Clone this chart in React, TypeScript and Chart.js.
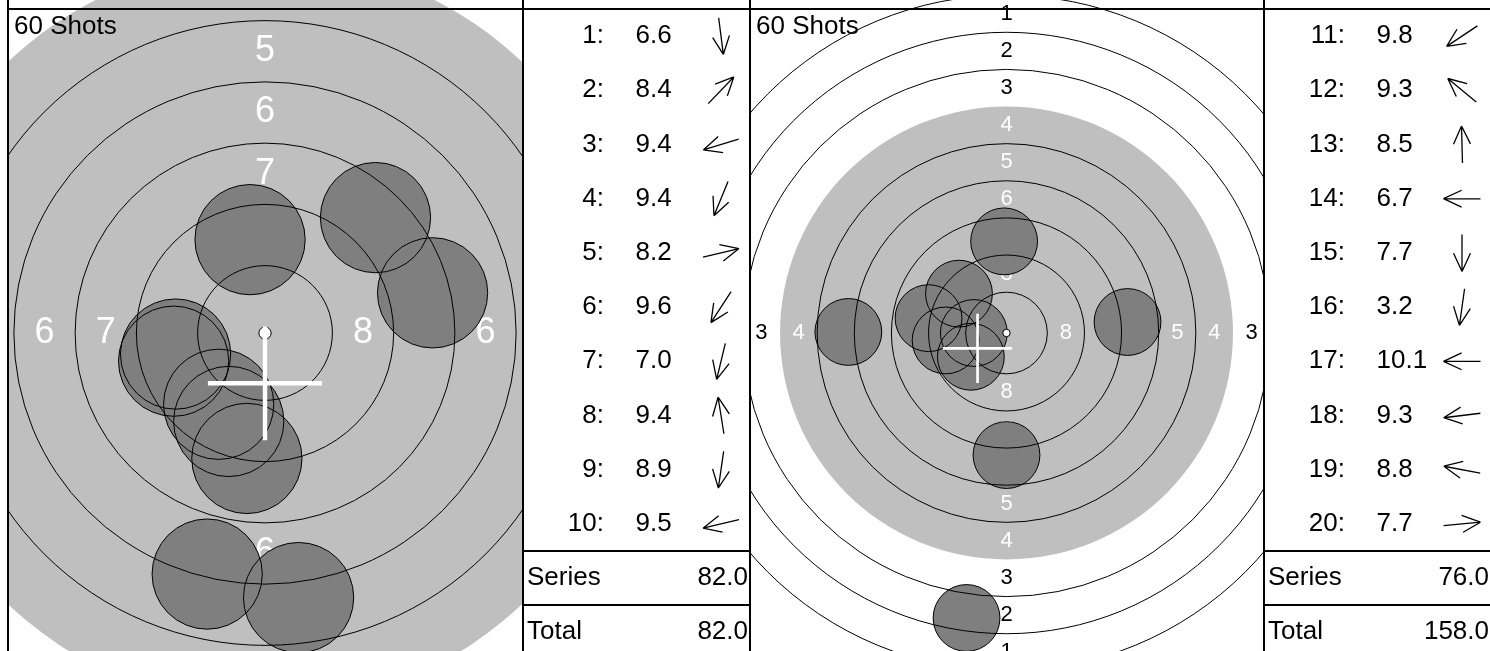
import React, { useEffect, useRef } from "react";
import { Chart, registerables } from "chart.js";

Chart.register(...registerables);

const FONT = "'Liberation Sans', Arial, Helvetica, sans-serif";

// ISSF 10 m air rifle target, ring radii in mm for rings 1..10
const ringScores = [1, 2, 3, 4, 5, 6, 7, 8, 9, 10];
const ringRadiusMm = [22.75, 20.25, 17.75, 15.25, 12.75, 10.25, 7.75, 5.25, 2.75, 0.25];
const labelledRings = [1, 2, 3, 4, 5, 6, 7, 8];
const blackAreaRing = 4;
const pelletRadiusMm = 2.25;
const crossArmMm = 2.33;
const shotCountLabel = "60 Shots";

// Series 1 (shots 1-10); positions in mm, x to the right, y upwards
const shotNumbers1 = [1, 2, 3, 4, 5, 6, 7, 8, 9, 10];
const scores1 = [6.6, 8.4, 9.4, 9.4, 8.2, 9.6, 7.0, 9.4, 8.9, 9.5];
const shotX1 = [1.37, 4.51, -3.73, -1.48, 6.84, -1.89, -2.36, -0.61, -0.74, -3.65];
const shotY1 = [-10.8, 4.71, -1.15, -3.61, 1.64, -2.91, -9.84, 3.81, -5.12, -0.86];
const meanX1 = [0.0];
const meanY1 = [-2.05];

// Series 2 (shots 11-20)
const shotNumbers2 = [11, 12, 13, 14, 15, 16, 17, 18, 19, 20];
const scores2 = [9.8, 9.3, 8.5, 6.7, 7.7, 3.2, 10.1, 9.3, 8.8, 7.7];
const shotX2 = [-2.4, -3.2, -0.16, -10.65, 0.0, -2.69, -2.2, -4.1, -5.25, 8.15];
const shotY2 = [-1.6, 2.65, 6.17, 0.07, -8.22, -19.19, 0.0, -0.5, 1.0, 0.74];
const meanX2 = [-1.95];
const meanY2 = [-1.04];

const GRAY_AREA = "#bfbfbf";
const SHOT_FILL = "#7f7f7f";

function mmToPx(chart: any, mm: number) {
  const sx = chart.scales && chart.scales.x;
  if (!sx) return 0;
  const v = Math.abs(sx.getPixelForValue(mm) - sx.getPixelForValue(0));
  return Number.isFinite(v) ? v : 0;
}

type TargetProps = {
  left: number; top: number; width: number; height: number;
  centerX: number; centerY: number; pxPerMm: number;
  xs: number[]; ys: number[]; meanX: number[]; meanY: number[];
};

function TargetChart(p: TargetProps) {
  const ref = useRef<HTMLCanvasElement>(null);
  useEffect(() => {
    const canvas = ref.current!;
    const ox = p.centerX - p.left;
    const oy = p.centerY - p.top;
    const xMin = -ox / p.pxPerMm;
    const xMax = (p.width - ox) / p.pxPerMm;
    const yMax = oy / p.pxPerMm;
    const yMin = -(p.height - oy) / p.pxPerMm;
    const shots = p.xs.map((x, i) => ({ x, y: p.ys[i] }));

    const plugin = {
      id: "targetFace",
      beforeDatasetsDraw(chart: any) {
        const { ctx, chartArea } = chart;
        const sx = chart.scales.x, sy = chart.scales.y;
        const cx = sx.getPixelForValue(0), cy = sy.getPixelForValue(0);
        ctx.save();
        ctx.beginPath();
        ctx.rect(chartArea.left, chartArea.top, chartArea.right - chartArea.left, chartArea.bottom - chartArea.top);
        ctx.clip();
        const rBlack = mmToPx(chart, ringRadiusMm[ringScores.indexOf(blackAreaRing)]);
        ctx.fillStyle = GRAY_AREA;
        ctx.beginPath();
        ctx.arc(cx, cy, rBlack, 0, Math.PI * 2);
        ctx.fill();
        const fs = Math.round(mmToPx(chart, 1.48));
        ctx.font = `${fs}px ${FONT}`;
        ctx.textAlign = "center";
        ctx.textBaseline = "middle";
        labelledRings.forEach((n) => {
          const i = ringScores.indexOf(n);
          const midMm = (ringRadiusMm[i] + ringRadiusMm[i + 1]) / 2;
          const r = mmToPx(chart, midMm);
          ctx.fillStyle = n >= blackAreaRing ? "#ffffff" : "#000000";
          const t = String(n);
          ctx.fillText(t, cx, cy - r);
          ctx.fillText(t, cx, cy + r);
          ctx.fillText(t, cx - r, cy);
          ctx.fillText(t, cx + r, cy);
        });
        ctx.restore();
      },
      afterDatasetDraw(chart: any, args: any) {
        if (chart.data.datasets[args.index].label !== "shotFill") return;
        const { ctx } = chart;
        const sx = chart.scales.x, sy = chart.scales.y;
        const cx = sx.getPixelForValue(0), cy = sy.getPixelForValue(0);
        ctx.save();
        ctx.strokeStyle = "#000";
        ctx.lineWidth = 1;
        ringScores.forEach((n, i) => {
          if (n === blackAreaRing || n === 10) return;
          ctx.beginPath();
          ctx.arc(cx, cy, mmToPx(chart, ringRadiusMm[i]), 0, Math.PI * 2);
          ctx.stroke();
        });
        ctx.restore();
      },
      afterDraw(chart: any) {
        const { ctx } = chart;
        ctx.save();
        ctx.fillStyle = "#000";
        ctx.font = `26px ${FONT}`;
        ctx.textAlign = "left";
        ctx.textBaseline = "alphabetic";
        ctx.fillText(shotCountLabel, chart.chartArea.left + 6, chart.chartArea.top + 34);
        ctx.restore();
      },
    };

    const pelletR = (ctx: any) => mmToPx(ctx.chart, pelletRadiusMm);
    const chart = new Chart(canvas, {
      type: "scatter",
      data: {
        datasets: [
          {
            label: "shotFill", data: shots, order: 5,
            pointRadius: pelletR, pointHoverRadius: pelletR,
            pointBackgroundColor: SHOT_FILL, pointBorderColor: "rgba(0,0,0,0)", pointBorderWidth: 0,
          },
          {
            label: "shotEdge", data: shots, order: 4,
            pointRadius: pelletR, pointHoverRadius: pelletR,
            pointBackgroundColor: "rgba(0,0,0,0)", pointBorderColor: "#000", pointBorderWidth: 1,
          },
          {
            label: "centre", data: [{ x: 0, y: 0 }], order: 2,
            pointRadius: (ctx: any) => mmToPx(ctx.chart, ringRadiusMm[9]),
            pointBackgroundColor: "#fff", pointBorderColor: "#000", pointBorderWidth: 1,
          },
          {
            label: "mean", data: p.meanX.map((x, i) => ({ x, y: p.meanY[i] })), order: 1,
            pointStyle: "cross",
            pointRadius: (ctx: any) => mmToPx(ctx.chart, crossArmMm),
            pointBorderColor: "#fff",
            pointBorderWidth: (ctx: any) => mmToPx(ctx.chart, 0.18),
          },
        ] as any,
      },
      options: {
        responsive: false,
        animation: false,
        events: [],
        layout: { padding: 0, autoPadding: false },
        scales: {
          x: { type: "linear", display: false, min: xMin, max: xMax, bounds: "data" },
          y: { type: "linear", display: false, min: yMin, max: yMax, bounds: "data" },
        },
        plugins: { legend: { display: false }, tooltip: { enabled: false } },
      } as any,
      plugins: [plugin],
    });
    return () => chart.destroy();
  }, []);
  return (
    <canvas
      ref={ref}
      width={p.width}
      height={p.height}
      style={{ position: "absolute", left: p.left, top: p.top, width: p.width, height: p.height }}
    />
  );
}

type TableProps = {
  left: number; top: number; width: number; height: number;
  firstRowY: number; rowH: number;
  numbers: number[]; scores: number[]; xs: number[]; ys: number[]; previousTotal: number;
};

const COL_NUM_RIGHT = 81;
const COL_VAL_LEFT = 112.5;
const COL_ARROW = 198;
const COL_LABEL_LEFT = 4;
const COL_SUM_RIGHT = 225;

function ScoreTable(p: TableProps) {
  const ref = useRef<HTMLCanvasElement>(null);
  useEffect(() => {
    const canvas = ref.current!;
    const yMin = -(p.firstRowY - p.top) / p.rowH;
    const yMax = (p.top + p.height - p.firstRowY) / p.rowH;
    const series = p.scores.reduce((a, s) => a + Math.floor(s), 0);
    const total = p.previousTotal + series;

    const plugin = {
      id: "scoreTable",
      afterDraw(chart: any) {
        const { ctx } = chart;
        const sx = chart.scales.x, sy = chart.scales.y;
        ctx.save();
        ctx.fillStyle = "#000";
        ctx.strokeStyle = "#000";
        ctx.font = `26px ${FONT}`;
        ctx.textBaseline = "middle";
        p.numbers.forEach((n, i) => {
          const yc = sy.getPixelForValue(i + 0.5);
          ctx.textAlign = "right";
          ctx.fillText(`${n}:`, sx.getPixelForValue(COL_NUM_RIGHT), yc);
          ctx.textAlign = "left";
          ctx.fillText(p.scores[i].toFixed(1), sx.getPixelForValue(COL_VAL_LEFT), yc);
          const ang = Math.atan2(-p.ys[i], p.xs[i]);
          const ux = Math.cos(ang), uy = Math.sin(ang);
          const ax = sx.getPixelForValue(COL_ARROW);
          const half = 18.5;
          const tipX = ax + ux * half, tipY = yc + uy * half;
          ctx.lineWidth = 1.3;
          ctx.beginPath();
          ctx.moveTo(ax - ux * half, yc - uy * half);
          ctx.lineTo(tipX, tipY);
          for (const s of [-1, 1]) {
            const a = ang + Math.PI + (s * 25 * Math.PI) / 180;
            ctx.moveTo(tipX, tipY);
            ctx.lineTo(tipX + Math.cos(a) * 20, tipY + Math.sin(a) * 20);
          }
          ctx.stroke();
        });
        const n = p.numbers.length;
        ctx.lineWidth = 2;
        [n, n + 1].forEach((v) => {
          const y = Math.round(sy.getPixelForValue(v));
          ctx.beginPath();
          ctx.moveTo(sx.getPixelForValue(sx.min), y);
          ctx.lineTo(sx.getPixelForValue(sx.max), y);
          ctx.stroke();
        });
        const rowsText: [string, number][] = [["Series", series], ["Total", total]];
        rowsText.forEach(([lab, val], k) => {
          const yc = sy.getPixelForValue(n + k + 0.5);
          ctx.textAlign = "left";
          ctx.fillText(lab, sx.getPixelForValue(COL_LABEL_LEFT), yc);
          ctx.textAlign = "right";
          ctx.fillText(val.toFixed(1), sx.getPixelForValue(COL_SUM_RIGHT), yc);
        });
        ctx.restore();
      },
    };

    const chart = new Chart(canvas, {
      type: "scatter",
      data: { datasets: [] },
      options: {
        responsive: false,
        animation: false,
        events: [],
        layout: { padding: 0, autoPadding: false },
        scales: {
          x: { type: "linear", display: false, min: 0, max: p.width, bounds: "data" },
          y: { type: "linear", display: false, reverse: true, min: yMin, max: yMax, bounds: "data" },
        },
        plugins: { legend: { display: false }, tooltip: { enabled: false } },
      } as any,
      plugins: [plugin],
    });
    return () => chart.destroy();
  }, []);
  return (
    <canvas
      ref={ref}
      width={p.width}
      height={p.height}
      style={{ position: "absolute", left: p.left, top: p.top, width: p.width, height: p.height }}
    />
  );
}

const series1Total = scores1.reduce((a, s) => a + Math.floor(s), 0);

function Rule(props: { left: number; top: number; width: number; height: number }) {
  return <div style={{ position: "absolute", background: "#000", ...props }} />;
}

export default function App() {
  return (
    <div style={{ position: "absolute", left: 0, top: 0, width: 1490, height: 651, overflow: "hidden", background: "#fff" }}>
      <TargetChart left={8} top={0} width={515} height={651} centerX={265} centerY={333} pxPerMm={24.5}
        xs={shotX1} ys={shotY1} meanX={meanX1} meanY={meanY1} />
      <ScoreTable left={523} top={0} width={227} height={651} firstRowY={9} rowH={54.2}
        numbers={shotNumbers1} scores={scores1} xs={shotX1} ys={shotY1} previousTotal={0} />
      <TargetChart left={750} top={0} width={515} height={651} centerX={1006.5} centerY={333} pxPerMm={14.85}
        xs={shotX2} ys={shotY2} meanX={meanX2} meanY={meanY2} />
      <ScoreTable left={1264} top={0} width={227} height={651} firstRowY={9} rowH={54.2}
        numbers={shotNumbers2} scores={scores2} xs={shotX2} ys={shotY2} previousTotal={series1Total} />
      <Rule left={7} top={8} width={1483} height={2} />
      <Rule left={7} top={0} width={2} height={651} />
      <Rule left={522} top={0} width={2} height={651} />
      <Rule left={749} top={0} width={2} height={651} />
      <Rule left={1263} top={0} width={2} height={651} />
    </div>
  );
}
